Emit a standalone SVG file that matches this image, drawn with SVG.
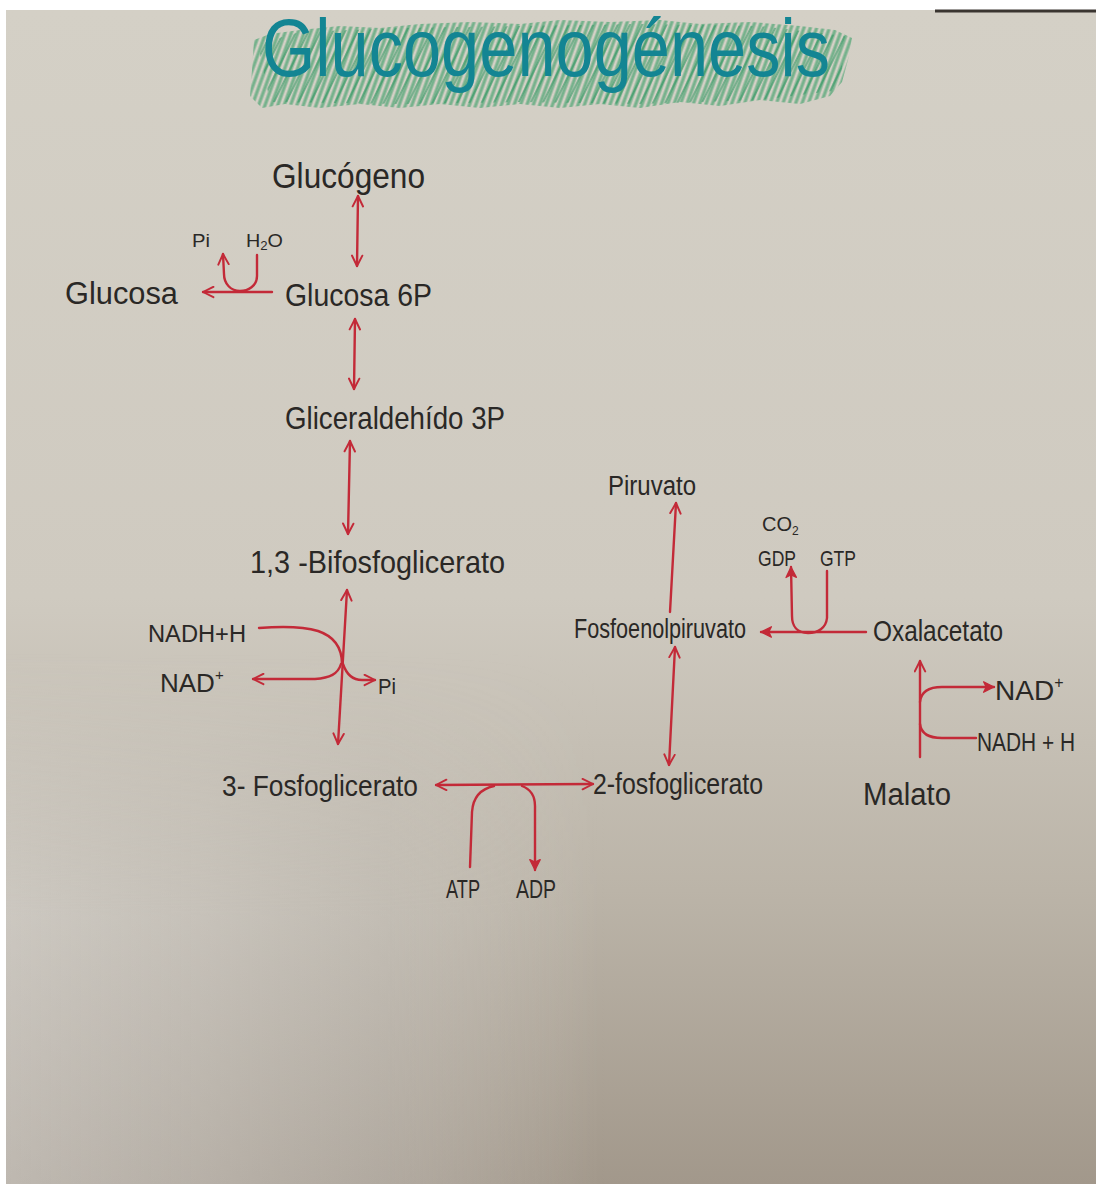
<svg xmlns="http://www.w3.org/2000/svg" width="1096" height="1184" viewBox="0 0 1096 1184">
<defs>
<linearGradient id="paper" x1="0" y1="0" x2="0" y2="1">
<stop offset="0" stop-color="#d4d0c6"/>
<stop offset="0.5" stop-color="#cfcac0"/>
<stop offset="0.75" stop-color="#bbb4a8"/>
<stop offset="1" stop-color="#a2988b"/>
</linearGradient>
<linearGradient id="sideLight" x1="0" y1="0" x2="1" y2="0">
<stop offset="0" stop-color="#e8e8e8" stop-opacity="0.4"/>
<stop offset="0.35" stop-color="#e0e0e0" stop-opacity="0.25"/>
<stop offset="0.55" stop-color="#ffffff" stop-opacity="0"/>
</linearGradient>
<linearGradient id="fadeV" x1="0" y1="0" x2="0" y2="1">
<stop offset="0" stop-color="#fff" stop-opacity="0"/>
<stop offset="0.5" stop-color="#fff" stop-opacity="1"/>
</linearGradient>
<mask id="bottomMask"><rect x="0" y="650" width="1096" height="534" fill="url(#fadeV)"/></mask>
<pattern id="hatch" width="6" height="6" patternUnits="userSpaceOnUse" patternTransform="rotate(-70)">
<line x1="0" y1="3" x2="6" y2="3" stroke="#4ea673" stroke-width="3.2" stroke-opacity="0.7"/>
</pattern>
<pattern id="hatch2" width="11" height="11" patternUnits="userSpaceOnUse" patternTransform="rotate(-64)">
<line x1="0" y1="5" x2="11" y2="5" stroke="#2f9560" stroke-width="2" stroke-opacity="0.55"/>
</pattern>
<marker id="ah" viewBox="0 0 10 10" refX="9" refY="5" markerWidth="13" markerHeight="13" markerUnits="userSpaceOnUse" orient="auto-start-reverse">
<path d="M1,1 L9,5 L1,9" fill="none" stroke="#c32a38" stroke-width="1.5" stroke-linecap="round" stroke-linejoin="round"/>
</marker>
<marker id="ahf" viewBox="0 0 10 10" refX="9" refY="5" markerWidth="13" markerHeight="13" markerUnits="userSpaceOnUse" orient="auto-start-reverse">
<path d="M1,1 L9,5 L1,9 L3,5 Z" fill="#c32a38" stroke="#c32a38" stroke-width="1" stroke-linejoin="round"/>
</marker>
<style>
.t{font-family:"Liberation Sans",Arial,sans-serif;fill:#2a2826;}
.c{fill:none;stroke:#c32a38;stroke-width:2.4;stroke-linecap:round;stroke-linejoin:round;}
.title{font-family:"Liberation Sans",Arial,sans-serif;fill:#138593;}
</style>
</defs>
<rect width="1096" height="1184" fill="#ffffff"/>
<rect x="6" y="10" width="1090" height="1174" fill="url(#paper)"/>
<rect x="6" y="650" width="1090" height="534" fill="url(#sideLight)" mask="url(#bottomMask)"/>
<line x1="935" y1="11" x2="1096" y2="11" stroke="#3a3530" stroke-width="3"/>

<g id="title">
<path d="M254,40 L270,34 L300,30 L340,26 L380,28 L420,24 L470,22 L520,24 L560,20 L610,22 L660,20 L700,24 L750,22 L800,26 L835,30 L852,38 L848,60 L842,82 L830,96 L800,104 L760,100 L720,106 L680,102 L640,108 L600,104 L560,108 L520,104 L480,108 L440,104 L400,108 L360,104 L320,108 L285,104 L262,108 L250,96 L252,70 Z" fill="url(#hatch)"/>
<path d="M258,44 L300,32 L400,28 L520,26 L640,24 L760,26 L845,36 L840,90 L760,100 L640,104 L520,102 L400,104 L270,102 Z" fill="url(#hatch2)"/>
<text class="title" x="262" y="76" font-size="82" textLength="568" lengthAdjust="spacingAndGlyphs">Glucogenogénesis</text>
</g>

<g id="connectors">
<line class="c" x1="358" y1="196" x2="357" y2="266" marker-start="url(#ah)" marker-end="url(#ah)"/>
<line class="c" x1="272" y1="292" x2="203" y2="292" marker-end="url(#ah)"/>
<path class="c" d="M257,255 L257,276 C257,286 248,291 240,291 C231,291 224,284 224,274 L223,254" marker-end="url(#ah)"/>
<line class="c" x1="355" y1="319" x2="354" y2="389" marker-start="url(#ah)" marker-end="url(#ah)"/>
<line class="c" x1="350" y1="441" x2="348" y2="534" marker-start="url(#ah)" marker-end="url(#ah)"/>
<line class="c" x1="347" y1="590" x2="338" y2="744" marker-start="url(#ah)" marker-end="url(#ah)"/>
<path class="c" d="M259,628 C285,626 305,627 318,631 C336,637 342,650 342,664"/>
<path class="c" d="M341,664 C338,674 330,678 315,679 L253,679" marker-end="url(#ah)"/>
<path class="c" d="M343,664 C346,673 352,680 362,680 L375,680" marker-end="url(#ah)"/>
<line class="c" x1="436" y1="785" x2="593" y2="784" marker-start="url(#ah)" marker-end="url(#ah)"/>
<path class="c" d="M470,867 L472,812 C473,797 480,789 494,786"/>
<path class="c" d="M522,786 C530,789 535,796 535,806 L535,870" marker-end="url(#ahf)"/>
<line class="c" x1="675" y1="647" x2="669" y2="765" marker-start="url(#ah)" marker-end="url(#ah)"/>
<line class="c" x1="670" y1="612" x2="676" y2="503" marker-end="url(#ah)"/>
<line class="c" x1="866" y1="632" x2="761" y2="632" marker-end="url(#ahf)"/>
<path class="c" d="M827,571 L827,618 C826,628 818,633 808,633 C797,633 792,626 792,616 L791,567" marker-end="url(#ahf)"/>
<line class="c" x1="920" y1="757" x2="920" y2="661" marker-end="url(#ah)"/>
<path class="c" d="M920,702 C921,692 928,687 942,687 L994,687" marker-end="url(#ahf)"/>
<path class="c" d="M920,724 C921,733 928,738 942,738 L976,738"/>
</g>

<g id="n-glucogeno"><text class="t" x="272" y="188" font-size="35" textLength="153" lengthAdjust="spacingAndGlyphs">Glucógeno</text></g>
<g id="n-pi1"><text class="t" x="192" y="247" font-size="18" textLength="18" lengthAdjust="spacingAndGlyphs">Pi</text></g>
<g id="n-h2o"><text class="t" x="246" y="247" font-size="18" textLength="37" lengthAdjust="spacingAndGlyphs">H<tspan font-size="12" dy="3">2</tspan><tspan dy="-3">O</tspan></text></g>
<g id="n-glucosa"><text class="t" x="65" y="304" font-size="31" textLength="113" lengthAdjust="spacingAndGlyphs">Glucosa</text></g>
<g id="n-glucosa6p"><text class="t" x="285" y="306" font-size="31" textLength="147" lengthAdjust="spacingAndGlyphs">Glucosa 6P</text></g>
<g id="n-gliceraldehido"><text class="t" x="285" y="429" font-size="32" textLength="220" lengthAdjust="spacingAndGlyphs">Gliceraldehído 3P</text></g>
<g id="n-bpg"><text class="t" x="250" y="573" font-size="32" textLength="255" lengthAdjust="spacingAndGlyphs">1,3 -Bifosfoglicerato</text></g>
<g id="n-nadh1"><text class="t" x="148" y="642" font-size="23" textLength="98" lengthAdjust="spacingAndGlyphs">NADH+H</text></g>
<g id="n-nad1"><text class="t" x="160" y="692" font-size="26">NAD<tspan font-size="15" dy="-12">+</tspan></text></g>
<g id="n-pi2"><text class="t" x="378" y="694" font-size="22" textLength="18" lengthAdjust="spacingAndGlyphs">Pi</text></g>
<g id="n-3pg"><text class="t" x="222" y="796" font-size="29" textLength="196" lengthAdjust="spacingAndGlyphs">3- Fosfoglicerato</text></g>
<g id="n-2pg"><text class="t" x="593" y="794" font-size="29" textLength="170" lengthAdjust="spacingAndGlyphs">2-fosfoglicerato</text></g>
<g id="n-atp"><text class="t" x="446" y="898" font-size="25" textLength="34" lengthAdjust="spacingAndGlyphs">ATP</text></g>
<g id="n-adp"><text class="t" x="516" y="898" font-size="25" textLength="40" lengthAdjust="spacingAndGlyphs">ADP</text></g>
<g id="n-piruvato"><text class="t" x="608" y="495" font-size="27" textLength="88" lengthAdjust="spacingAndGlyphs">Piruvato</text></g>
<g id="n-co2"><text class="t" x="762" y="531" font-size="20">CO<tspan font-size="12" dy="4">2</tspan></text></g>
<g id="n-gdp"><text class="t" x="758" y="566" font-size="22" textLength="38" lengthAdjust="spacingAndGlyphs">GDP</text></g>
<g id="n-gtp"><text class="t" x="820" y="566" font-size="22" textLength="36" lengthAdjust="spacingAndGlyphs">GTP</text></g>
<g id="n-pep"><text class="t" x="574" y="638" font-size="27" textLength="172" lengthAdjust="spacingAndGlyphs">Fosfoenolpiruvato</text></g>
<g id="n-oxalacetato"><text class="t" x="873" y="641" font-size="30" textLength="130" lengthAdjust="spacingAndGlyphs">Oxalacetato</text></g>
<g id="n-nad2"><text class="t" x="995" y="700" font-size="28">NAD<tspan font-size="16" dy="-12">+</tspan></text></g>
<g id="n-nadh2"><text class="t" x="977" y="751" font-size="25" textLength="98" lengthAdjust="spacingAndGlyphs">NADH + H</text></g>
<g id="n-malato"><text class="t" x="863" y="805" font-size="31" textLength="88" lengthAdjust="spacingAndGlyphs">Malato</text></g>
</svg>
